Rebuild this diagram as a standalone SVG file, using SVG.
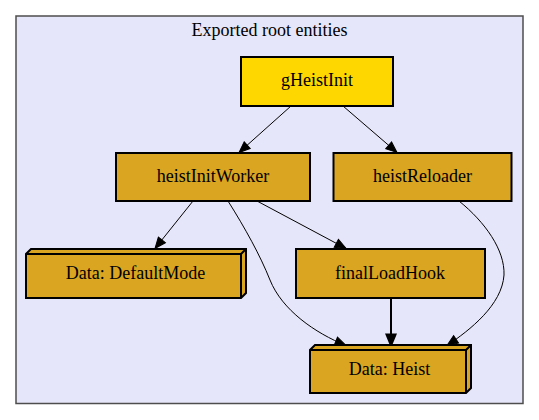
<svg xmlns="http://www.w3.org/2000/svg" width="539" height="420" viewBox="0 0 539 420">
<defs>
<style>
text{font-family:"Liberation Serif","Times New Roman",serif;font-size:18px;fill:#000;text-anchor:middle}
.node{stroke:#000;stroke-width:2}
.fn{fill:#daa520}
.root{fill:#ffd700}
.e{fill:none;stroke:#000;stroke-width:1;marker-end:url(#ah)}
.eb{fill:none;stroke:#000;stroke-width:2;marker-end:url(#ahb)}
</style>
<marker id="ah" markerUnits="userSpaceOnUse" markerWidth="13" markerHeight="11" refX="12" refY="5.5" orient="auto" viewBox="0 0 13 11">
<path d="M1,1 L12,5.5 L1,10 Z" fill="#000" stroke="#000" stroke-width="1"/>
</marker>
<marker id="ahb" markerUnits="userSpaceOnUse" markerWidth="14" markerHeight="12" refX="12.5" refY="6" orient="auto" viewBox="0 0 14 12">
<path d="M1.5,1.5 L12.5,6 L1.5,10.5 Z" fill="#000" stroke="#000" stroke-width="2"/>
</marker>
</defs>
<rect width="539" height="420" fill="#fff"/>
<g id="cluster">
<rect x="16" y="16" width="507" height="387.5" fill="#e6e6fa" stroke="#4d4d4d" stroke-width="1.5"/>
<text x="269.5" y="35.5">Exported root entities</text>
</g>
<g id="edges">
<path class="e" d="M291,106 L239,152.5"/>
<path class="e" d="M343,106 L397,152.5"/>
<path class="e" d="M193,201 L155,248.5"/>
<path class="e" d="M257,201 L346,248.5"/>
<path class="e" d="M228,201 C245,228 260,255 270,280 C282,310 315,333 346,345.5"/>
<path class="eb" d="M391,298 L391,345.5"/>
<path class="e" d="M459,201 C485,222 505,250 504,275 C502,305 470,330 447,345.5"/>
</g>
<g id="gHeistInit">
<rect class="node root" x="241" y="57" width="152" height="49"/>
<text x="317" y="85.5">gHeistInit</text>
</g>
<g id="heistInitWorker">
<rect class="node fn" x="116" y="153" width="194" height="48"/>
<text x="213" y="182">heistInitWorker</text>
</g>
<g id="heistReloader">
<rect class="node fn" x="333.5" y="153" width="178" height="48"/>
<text x="422.5" y="182">heistReloader</text>
</g>
<g id="DefaultMode">
<path class="node fn" d="M26,254 L26,298 L241,298 L246,293 L246,249 L31,249 Z"/>
<path d="M26,254 L241,254 L246,249 M241,254 L241,298" fill="none" stroke="#000" stroke-width="2"/>
<text x="135.5" y="278.5">Data: DefaultMode</text>
</g>
<g id="finalLoadHook">
<rect class="node fn" x="296" y="249" width="189" height="49"/>
<text x="390" y="278.5">finalLoadHook</text>
</g>
<g id="Heist">
<path class="node fn" d="M310,350 L310,393 L466,393 L471,388 L471,345 L315,345 Z"/>
<path d="M310,350 L466,350 L471,345 M466,350 L466,393" fill="none" stroke="#000" stroke-width="2"/>
<text x="389.5" y="374.5">Data: Heist</text>
</g>
</svg>
